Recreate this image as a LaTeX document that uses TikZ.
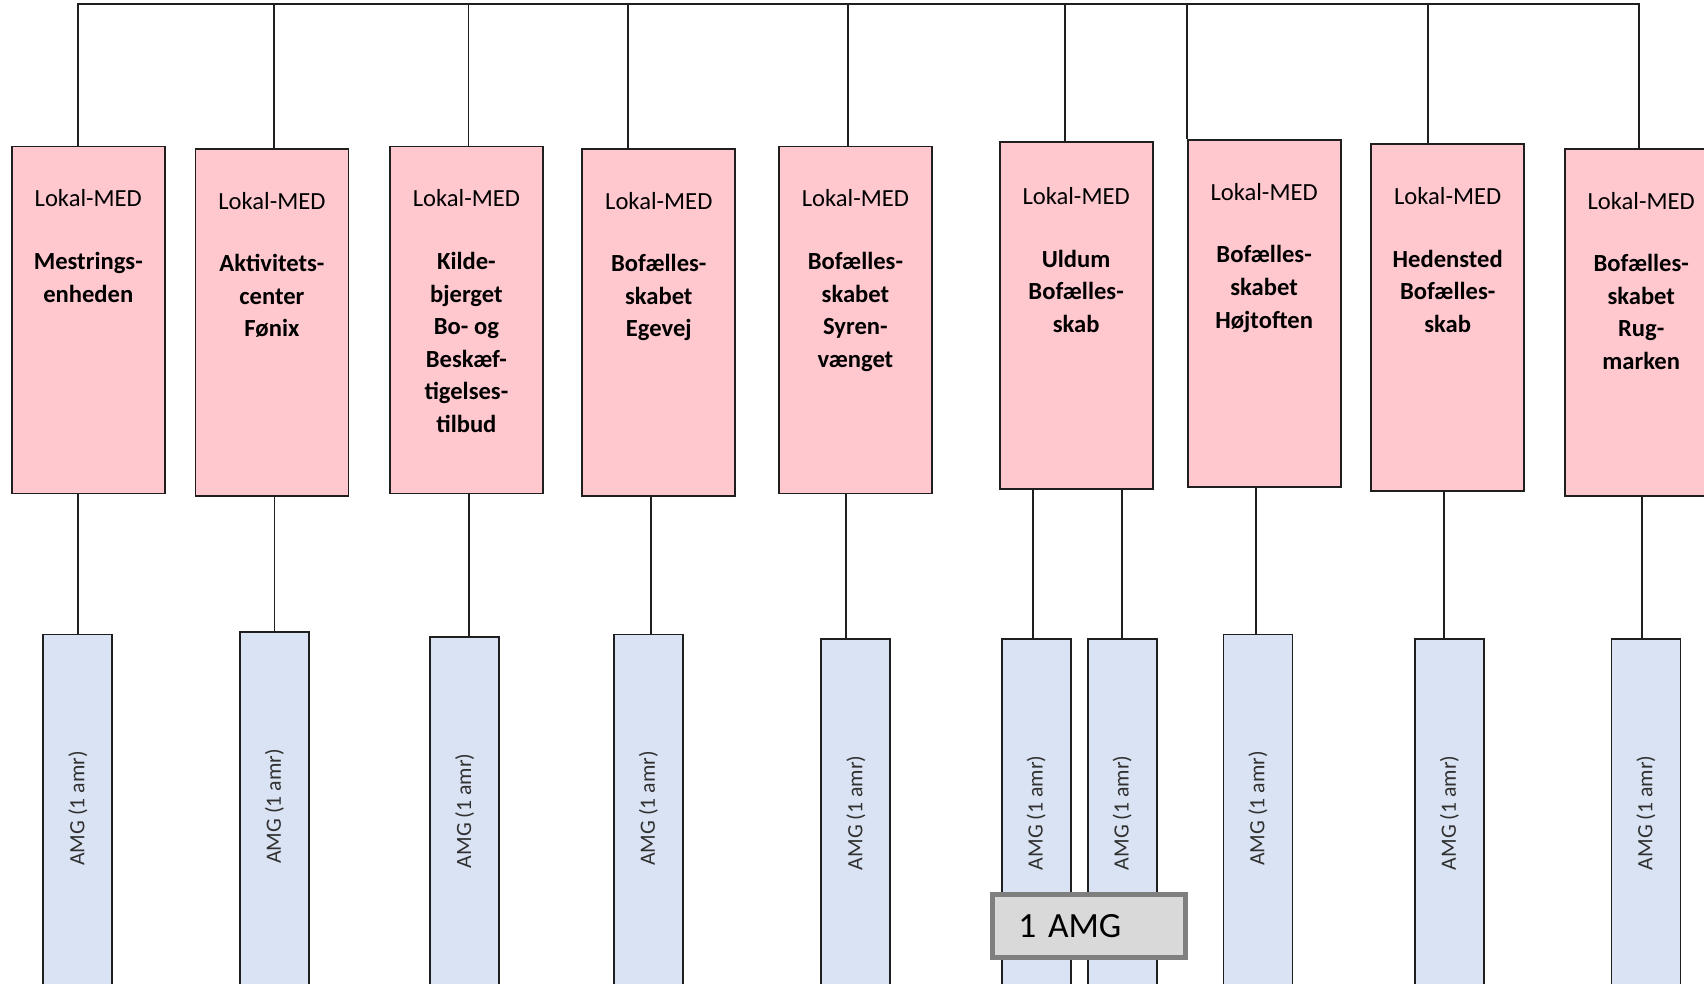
\documentclass[tikz,border=0pt]{standalone}
\usepackage{fontspec}
\setmainfont{Carlito}
\usetikzlibrary{calc}
\definecolor{medpink}{HTML}{FFC7CE}
\definecolor{amgblue}{HTML}{DAE3F3}
\definecolor{linegray}{HTML}{1F1F1F}
\definecolor{notefill}{HTML}{D9D9D9}
\definecolor{noteedge}{HTML}{7F7F7F}
\definecolor{amgtextcol}{HTML}{303030}
\newcommand{\nm}[1]{\textbf{#1}}
\begin{document}
\begin{tikzpicture}[x=1pt,y=-1pt,
  conn/.style={draw=linegray, line width=1.8pt},
  medbox/.style={draw=linegray, line width=1.8pt, fill=medpink, anchor=north west,
    minimum width=153pt, minimum height=347pt, inner sep=0pt},
  medtext/.style={anchor=north, align=center, inner sep=0pt, text=black,
    font=\fontsize{24.6}{32.6}\selectfont},
  amgbox/.style={draw=linegray, line width=1.8pt, fill=amgblue, anchor=north west,
    minimum width=69pt, minimum height=370pt, inner sep=0pt},
  amgtext/.style={rotate=90, inner sep=0pt, text=amgtextcol,
    font=\fontsize{21.8}{26}\selectfont},
  notebox/.style={draw=noteedge, line width=4.5pt, fill=notefill, anchor=north west,
    minimum height=62.9pt, text width=141pt, inner xsep=26pt, inner ysep=0pt,
    align=left, font=\fontsize{35.5}{42}\selectfont}
]
\useasboundingbox (0,0) rectangle (1704,983);
\clip (0,0) rectangle (1704,983);

% top boxes
\node[medbox] (m1) at (10.9,145.6) {};
\node[medbox] (m2) at (194.5,147.8) {};
\node[medbox] (m3) at (389.0,145.6) {};
\node[medbox] (m4) at (581.4,147.8) {};
\node[medbox] (m5) at (778.0,145.6) {};
\node[medbox] (m6) at (998.7,141.3) {};
\node[medbox] (m7) at (1186.7,139.1) {};
\node[medbox] (m8) at (1370.3,143.4) {};
\node[medbox] (m9) at (1563.8,147.8) {};

% top box texts
\node[medtext] (l1) at ([yshift=-44pt]m1.north) {Lokal-MED\\[30pt]\nm{Mestrings-}\\\nm{enheden}};
\node[medtext] (l2) at ([yshift=-44pt]m2.north) {Lokal-MED\\[30pt]\nm{Aktivitets-}\\\nm{center}\\\nm{Fønix}};
\node[medtext] (l3) at ([yshift=-44pt]m3.north) {Lokal-MED\\[30pt]\nm{Kilde-}\\\nm{bjerget}\\\nm{Bo- og}\\\nm{Beskæf-}\\\nm{tigelses-}\\\nm{tilbud}};
\node[medtext] (l4) at ([yshift=-44pt]m4.north) {Lokal-MED\\[30pt]\nm{Bofælles-}\\\nm{skabet}\\\nm{Egevej}};
\node[medtext] (l5) at ([yshift=-44pt]m5.north) {Lokal-MED\\[30pt]\nm{Bofælles-}\\\nm{skabet}\\\nm{Syren-}\\\nm{vænget}};
\node[medtext] (l6) at ([yshift=-46pt]m6.north) {Lokal-MED\\[30pt]\nm{Uldum}\\\nm{Bofælles-}\\\nm{skab}};
\node[medtext] (l7) at ([yshift=-44pt]m7.north) {Lokal-MED\\[30pt]\nm{Bofælles-}\\\nm{skabet}\\\nm{Højtoften}};
\node[medtext] (l8) at ([yshift=-44pt]m8.north) {Lokal-MED\\[30pt]\nm{Hedensted}\\\nm{Bofælles-}\\\nm{skab}};
\node[medtext] (l9) at ([yshift=-44pt]m9.north) {Lokal-MED\\[30pt]\nm{Bofælles-}\\\nm{skabet}\\\nm{Rug-}\\\nm{marken}};

% bottom boxes
\node[amgbox] (a1)  at (42.4,633.5) {};
\node[amgbox] (a2)  at (239.0,631.4) {};
\node[amgbox] (a3)  at (429.2,635.7) {};
\node[amgbox] (a4)  at (612.9,633.5) {};
\node[amgbox] (a5)  at (820.4,637.9) {};
\node[amgbox] (a6a) at (1000.8,637.9) {};
\node[amgbox] (a6b) at (1086.7,637.9) {};
\node[amgbox] (a7)  at (1222.6,633.5) {};
\node[amgbox] (a8)  at (1413.9,637.9) {};
\node[amgbox] (a9)  at (1610.5,637.9) {};

\foreach \b in {a1,a2,a3,a4,a5,a6a,a6b,a7,a8,a9}{
  \node[amgtext] (x\b) at ($(\b.north)+(0,175)$) {AMG (1 amr)};
}

% top connectors
\coordinate (t1) at (78.2,4);
\coordinate (t2) at (273.8,4);
\coordinate (t3) at (468.4,4);
\coordinate (t4) at (628.1,4);
\coordinate (t5) at (847.6,4);
\coordinate (t6) at (1065.0,4);
\coordinate (t7) at (1186.7,4);
\coordinate (t8) at (1427.9,4);
\coordinate (t9) at (1638.7,4);
\draw[conn] ([xshift=-0.9pt]t1) -- ([xshift=0.9pt]t9);
\foreach \i in {1,...,9}{
  \draw[conn] (t\i) -- (t\i |- m\i.north);
}

% bottom connectors
\draw[conn] (m1.south -| a1.north) -- (a1.north);
\draw[conn] (m2.south -| a2.north) -- (a2.north);
\draw[conn] ([xshift=4pt]m3.south -| a3.north) -- ([xshift=4pt]a3.north);
\draw[conn] ([xshift=3pt]m4.south -| a4.north) -- ([xshift=3pt]a4.north);
\draw[conn] ([xshift=-10pt]m5.south -| a5.north) -- ([xshift=-10pt]a5.north);
\draw[conn] ([xshift=-3pt]m6.south -| a6a.north) -- ([xshift=-3pt]a6a.north);
\draw[conn] (m6.south -| a6b.north) -- (a6b.north);
\draw[conn] ([xshift=-2pt]m7.south -| a7.north) -- ([xshift=-2pt]a7.north);
\draw[conn] ([xshift=-5pt]m8.south -| a8.north) -- ([xshift=-5pt]a8.north);
\draw[conn] ([xshift=-4pt]m9.south -| a9.north) -- ([xshift=-4pt]a9.north);

% note
\node[notebox] (n1) at (990.0,892.2) {1 AMG};
\end{tikzpicture}
\end{document}
